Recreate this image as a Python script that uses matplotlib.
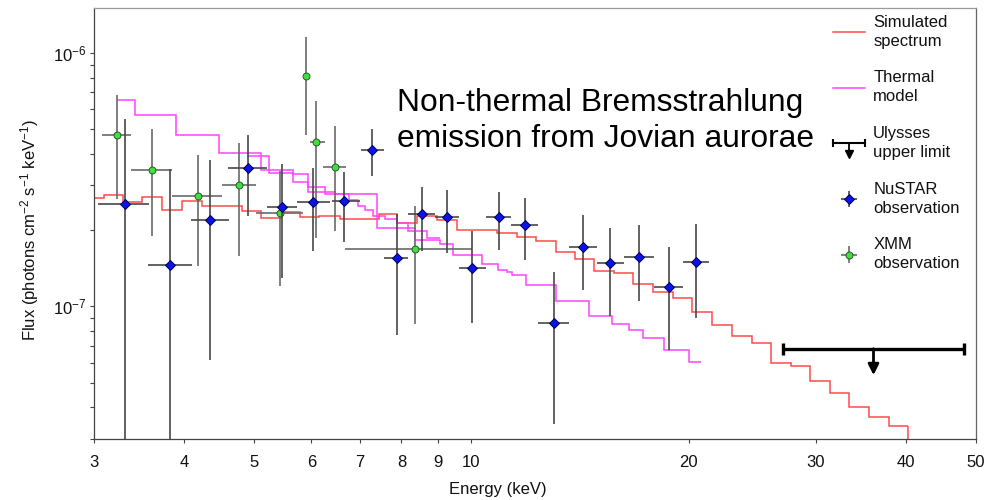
import numpy as np
import matplotlib
matplotlib.use("Agg")
import matplotlib.pyplot as plt
from matplotlib.lines import Line2D
from matplotlib.legend_handler import HandlerBase
from matplotlib.ticker import NullLocator, NullFormatter
from matplotlib.transforms import offset_copy

plt.rcParams['font.family'] = ['Liberation Sans', 'DejaVu Sans']
plt.rcParams['mathtext.fontset'] = 'custom'
plt.rcParams['mathtext.rm'] = 'Liberation Sans'
plt.rcParams['mathtext.it'] = 'Liberation Sans:italic'
plt.rcParams['mathtext.bf'] = 'Liberation Sans:bold'

# ---- Simulated non-thermal spectrum (step histogram) ----
sim_edges = [3.000, 3.100, 3.294, 3.500, 3.730, 3.976, 4.238, 4.513, 4.806, 5.106,
             5.441, 5.788, 6.155, 6.575, 6.997, 7.444, 7.895, 8.414, 8.950, 9.540,
             10.17, 10.84, 11.55, 12.29, 13.10, 13.91, 14.80, 15.76, 16.76, 17.86,
             19.00, 20.24, 21.54, 22.93, 24.45, 25.98, 27.68, 29.44, 31.38, 33.37,
             35.54, 37.89, 40.24]
sim_flux = [2.69, 2.75, 2.58, 2.71, 2.41, 2.61, 2.49, 2.49, 2.37, 2.23,
            2.35, 2.25, 2.27, 2.22, 2.22, 2.32, 2.13, 2.27, 2.19, 2.01,
            2.01, 1.95, 1.88, 1.82, 1.64, 1.54, 1.38, 1.35, 1.23, 1.14,
            1.08, 0.953, 0.845, 0.766, 0.717, 0.601, 0.580, 0.510, 0.456, 0.401,
            0.366, 0.338]  # x 1e-7

# ---- Thermal model (coarse and fine binning) ----
thermal_edges = [3.225, 3.422, 3.901, 4.474, 5.106, 5.665, 5.943, 6.268, 6.472, 7.409,
                 8.353, 9.045, 9.427, 10.33, 10.89, 11.20, 11.39, 11.90, 13.08, 14.55,
                 15.68, 16.51, 17.30, 18.46, 20.03, 20.81]
thermal_flux = [6.51, 5.67, 4.75, 4.03, 3.46, 3.33, 2.96, 2.84, 2.78, 2.04,
                1.83, 1.77, 1.60, 1.47, 1.39, 1.37, 1.33, 1.22, 1.05, 0.919,
                0.853, 0.804, 0.750, 0.671, 0.602]  # x 1e-7
thermal_fine_edges = [4.892, 5.248, 5.665, 5.943, 6.268, 6.767, 6.963, 7.120, 7.304,
                      7.589, 7.888, 8.169, 8.678, 9.045]
thermal_fine_flux = [3.92, 3.36, 3.11, 2.84, 2.77, 2.64, 2.48, 2.41, 2.28, 2.21,
                     2.13, 1.98, 1.86]  # x 1e-7

# ---- NuSTAR observation ----
nu_e = [3.309, 3.827, 4.347, 4.907, 5.470, 6.032, 6.666, 7.293, 7.878, 8.532,
        9.249, 10.03, 10.91, 11.86, 13.03, 14.28, 15.57, 17.06, 18.76, 20.48]
nu_e_lo = [3.041, 3.568, 4.084, 4.604, 5.204, 5.727, 6.402, 7.024, 7.573, 8.175,
           8.902, 9.619, 10.47, 11.33, 12.38, 13.65, 14.91, 16.27, 17.88, 19.65]
nu_e_hi = [3.575, 4.097, 4.610, 5.204, 5.727, 6.369, 7.008, 7.573, 8.175, 8.902,
           9.619, 10.46, 11.33, 12.38, 13.66, 14.91, 16.27, 17.88, 19.65, 21.33]
nu_f = [2.54, 1.46, 2.19, 3.52, 2.47, 2.59, 2.60, 4.13, 1.55, 2.32,
        2.26, 1.42, 2.25, 2.10, 0.862, 1.72, 1.48, 1.57, 1.19, 1.50]   # x 1e-7
nu_f_hi = [5.49, 3.47, 3.77, 4.73, 3.66, 3.53, 3.39, 5.00, 2.32, 2.96,
           2.89, 1.99, 2.82, 2.68, 1.37, 2.29, 2.03, 2.10, 1.71, 2.12]  # x 1e-7
nu_f_lo = [0.10, 0.10, 0.616, 2.28, 1.29, 1.66, 1.80, 3.26, 0.773, 1.65,
           1.63, 0.862, 1.67, 1.53, 0.344, 1.16, 0.919, 1.05, 0.671, 0.900]  # x 1e-7

# ---- XMM observation ----
xmm_e = [3.225, 3.613, 4.176, 4.764, 5.435, 5.905, 6.100, 6.465, 8.343]
xmm_e_lo = [3.075, 3.372, 3.848, 4.508, 5.037, 5.905, 5.975, 6.236, 6.690]
xmm_e_hi = [3.379, 3.848, 4.508, 5.030, 5.849, 5.905, 6.260, 6.702, 10.02]
xmm_f = [4.76, 3.45, 2.72, 3.00, 2.33, 8.14, 4.47, 3.56, 1.68]      # x 1e-7
xmm_f_hi = [6.85, 5.00, 3.97, 4.41, 3.42, 11.52, 6.44, 5.13, 2.50]  # x 1e-7
xmm_f_lo = [2.65, 1.90, 1.45, 1.58, 1.20, 4.76, 1.87, 1.98, 0.853] # x 1e-7

# ---- Ulysses upper limit ----
uly_e_lo, uly_e_hi = 27.04, 48.07
uly_flux = 0.681  # x 1e-7

x_ticks = [3, 4, 5, 6, 7, 8, 9, 10, 20, 30, 40, 50]
x_range = (3, 50)
y_range = (3.0e-8, 1.5e-6)

scale = 1e-7


def asym(center, lo, hi, k=1.0):
    c = np.asarray(center) * k
    return c, np.vstack([c - np.asarray(lo) * k, np.asarray(hi) * k - c])


fig = plt.figure(figsize=(9.9, 5.0), dpi=100)
ax = fig.add_axes([0.0949, 0.122, 0.8910, 0.8614])
ax.set_xscale('log')
ax.set_yscale('log')

red = '#ff4a4a'
magenta = '#ff44ff'

sim_line = ax.stairs(np.array(sim_flux) * scale, sim_edges, baseline=None,
                     color=red, lw=1.1, zorder=2)
ax.vlines(sim_edges[-1], y_range[0] * 0.5, sim_flux[-1] * scale, color=red, lw=1.1, zorder=2)
th_line = ax.stairs(np.array(thermal_flux) * scale, thermal_edges, baseline=None,
                    color=magenta, lw=1.1, zorder=2)
ax.stairs(np.array(thermal_fine_flux) * scale, thermal_fine_edges, baseline=None,
          color=magenta, lw=1.1, zorder=2)

# XMM points
xe, xerr = asym(xmm_e, xmm_e_lo, xmm_e_hi)
yf, yerr = asym(xmm_f, xmm_f_lo, xmm_f_hi, scale)
xmm_h = ax.errorbar(xe, yf, xerr=xerr, yerr=yerr, fmt='o', ms=5.0,
                    mfc='#3de03d', mec='#2b5a2b', mew=0.7,
                    ecolor='#6a6a6a', elinewidth=1.2, capsize=0, zorder=3)

# NuSTAR points
ne, nxerr = asym(nu_e, nu_e_lo, nu_e_hi)
nf, nyerr = asym(nu_f, nu_f_lo, nu_f_hi, scale)
nu_h = ax.errorbar(ne, nf, xerr=nxerr, yerr=nyerr, fmt='D', ms=5.0,
                   mfc='#0a14e6', mec='#00005a', mew=0.7,
                   ecolor='#484848', elinewidth=1.2, capsize=0, zorder=4)

# Ulysses upper limit: bar with caps and a downward arrow at the log-centre
uly_e = np.sqrt(uly_e_lo * uly_e_hi)
ax.errorbar([uly_e], [uly_flux * scale],
            xerr=[[uly_e - uly_e_lo], [uly_e_hi - uly_e]],
            fmt='none', ecolor='k', elinewidth=2.4, capsize=4.4, capthick=2.4, zorder=5)
tip = offset_copy(ax.transData, fig=fig, x=0, y=-19, units='points')
ax.annotate('', xy=(uly_e, uly_flux * scale), xycoords=tip,
            xytext=(uly_e, uly_flux * scale), textcoords='data',
            arrowprops=dict(arrowstyle='-|>', color='k', lw=2.0,
                            mutation_scale=16, shrinkA=0, shrinkB=0), zorder=5)

ax.set_xlim(*x_range)
ax.set_ylim(*y_range)
ax.set_xticks(x_ticks)
ax.set_xticklabels([str(t) for t in x_ticks])
ax.xaxis.set_minor_locator(NullLocator())
ax.yaxis.set_minor_formatter(NullFormatter())

spine_col = '#444444'
for side in ('left', 'bottom'):
    ax.spines[side].set_color(spine_col)
    ax.spines[side].set_linewidth(0.9)
ax.spines['top'].set_color('#9a9a9a')
ax.spines['right'].set_color('#666666')
for side in ('top', 'right'):
    ax.spines[side].set_linewidth(0.9)

ax.tick_params(axis='both', which='both', direction='out', length=3.2, width=0.8,
               color=spine_col, labelsize=12, labelcolor='#111111')
ax.tick_params(axis='x', which='both', pad=8.5)
ax.tick_params(axis='y', which='both', pad=2)

ax.set_xlabel('Energy (keV)', fontsize=12, color='#111111')
ax.xaxis.set_label_coords(0.458, -0.100)
ax.set_ylabel('Flux (photons cm$^{-2}$ s$^{-1}$ keV$^{-1}$)', fontsize=12, color='#111111')
ax.yaxis.set_label_coords(-0.060, 0.485)

fig.text(0.4007, 0.824, 'Non-thermal Bremsstrahlung\nemission from Jovian aurorae',
         fontsize=22.9, ha='left', va='top', color='black', linespacing=1.24)


class HandlerUpperLimit(HandlerBase):
    def create_artists(self, legend, orig_handle, xdescent, ydescent,
                       width, height, fontsize, trans):
        x0 = -xdescent
        x1 = x0 + width
        xm = 0.5 * (x0 + x1)
        yc = -ydescent + 0.5 * height
        drop = 0.66 * fontsize
        bar = Line2D([x0, x1], [yc, yc], color='k', lw=1.5, transform=trans)
        caps = Line2D([x0, x1], [yc, yc], ls='none', marker='|', ms=6, mew=1.5,
                      color='k', transform=trans)
        stem = Line2D([xm, xm], [yc, yc - drop], color='k', lw=1.3, transform=trans)
        head = Line2D([xm], [yc - drop], ls='none', marker='v', ms=5.5,
                      color='k', transform=trans)
        return [bar, caps, stem, head]


uly_proxy = Line2D([], [], color='k')
leg = ax.legend([sim_line, th_line, uly_proxy, nu_h, xmm_h],
                ['Simulated\nspectrum', 'Thermal\nmodel', 'Ulysses\nupper limit',
                 'NuSTAR\nobservation', 'XMM\nobservation'],
                handler_map={uly_proxy: HandlerUpperLimit()},
                loc='upper left', bbox_to_anchor=(0.838, 0.985),
                frameon=False, fontsize=12, borderpad=0, borderaxespad=0,
                handlelength=1.9, handletextpad=0.5, labelspacing=1.31)
for t in leg.get_texts():
    t.set_color('#111111')
    t.set_linespacing(1.32)

fig.savefig('out.png', dpi=100)
